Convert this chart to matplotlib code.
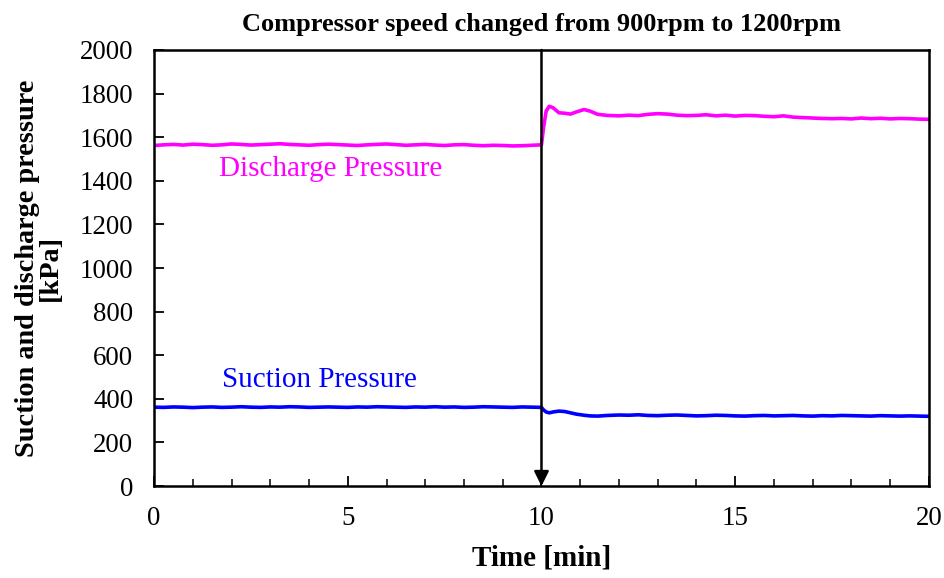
import matplotlib
matplotlib.use("Agg")
import matplotlib.pyplot as plt
from matplotlib.ticker import MultipleLocator

plt.rcParams["font.family"] = ["Liberation Serif", "DejaVu Serif"]

# ── data ──────────────────────────────────────────────────────────────────────
time_pre = [i * 0.25 for i in range(40)]          # 0 .. 9.75 min
time_step = [10.0, 10.05, 10.12, 10.2, 10.3, 10.45, 10.6, 10.75,
             10.9, 11.1, 11.25, 11.45, 11.7]
time_post = [12 + i * 0.25 for i in range(33)]    # 12 .. 20 min
time_min = time_pre + time_step + time_post

discharge = [
    1562, 1565, 1567, 1564, 1568, 1566, 1563, 1565, 1569, 1567,
    1564, 1566, 1568, 1570, 1567, 1565, 1563, 1566, 1568, 1566,
    1564, 1562, 1565, 1567, 1569, 1566, 1563, 1565, 1567, 1564,
    1562, 1565, 1566, 1563, 1561, 1563, 1562, 1560, 1561, 1563,
    1565, 1640, 1720, 1742, 1735, 1712, 1710, 1706, 1716, 1727,
    1720, 1705, 1700,
    1698, 1701, 1699, 1705, 1708, 1706, 1701, 1699, 1700, 1703,
    1698, 1701, 1697, 1700, 1699, 1696, 1694, 1698, 1692, 1690,
    1688, 1686, 1685, 1686, 1684, 1688, 1685, 1687, 1684, 1686,
    1685, 1683, 1682,
]

suction = [
    362, 361, 363, 362, 360, 362, 363, 361, 362, 364,
    362, 361, 363, 362, 364, 363, 361, 362, 363, 362,
    361, 363, 362, 364, 363, 362, 361, 363, 362, 364,
    362, 363, 361, 362, 364, 363, 362, 361, 363, 362,
    361, 350, 340, 336, 340, 344, 342, 336, 330, 325,
    322, 321, 324,
    326, 325, 327, 324, 323, 325, 326, 324, 322, 323,
    325, 324, 322, 321, 323, 324, 322, 323, 324, 322,
    321, 323, 322, 324, 323, 322, 321, 323, 322, 321,
    322, 321, 320,
]

x_ticks = [0, 5, 10, 15, 20]
y_ticks = list(range(0, 2001, 200))

# ── figure ────────────────────────────────────────────────────────────────────
fig = plt.figure(figsize=(9.45, 5.78), dpi=100)
ax = fig.add_axes([0.163, 0.159, 0.820, 0.7545])

ax.plot(time_min, discharge, color="#FF00FF", lw=2.6)
ax.plot(time_min, suction, color="#0000FF", lw=2.6)

ax.annotate("", xy=(10, 0), xytext=(10, 2000),
            arrowprops=dict(arrowstyle="-|>", color="black", lw=1.8,
                            mutation_scale=22, shrinkA=0, shrinkB=0))

ax.text(4.55, 1455, "Discharge Pressure", color="#FF00FF",
        fontsize=21, ha="center", va="center")
ax.text(4.28, 485, "Suction Pressure", color="#0000FF",
        fontsize=21, ha="center", va="center")

ax.set_xlim(0, 20)
ax.set_ylim(0, 2000)
ax.set_xticks(x_ticks)
ax.set_yticks(y_ticks)
ax.xaxis.set_minor_locator(MultipleLocator(1))
ax.tick_params(axis="both", which="major", direction="in", length=7,
               width=1.3, labelsize=19.4)
ax.tick_params(axis="x", which="major", pad=14)
ax.tick_params(axis="y", which="major", pad=15)
ax.tick_params(axis="x", which="minor", direction="in", length=5, width=1.1)
for s in ax.spines.values():
    s.set_linewidth(1.8)

ax.set_xlabel("Time [min]", fontsize=21, fontweight="bold", labelpad=10)
ax.set_ylabel("Suction and discharge pressure\n[kPa]", fontsize=20.3,
              fontweight="bold", labelpad=12, linespacing=0.9)
ax.set_title("Compressor speed changed from 900rpm to 1200rpm",
             fontsize=19, fontweight="bold", pad=14)

fig.savefig("out.png", dpi=100)
